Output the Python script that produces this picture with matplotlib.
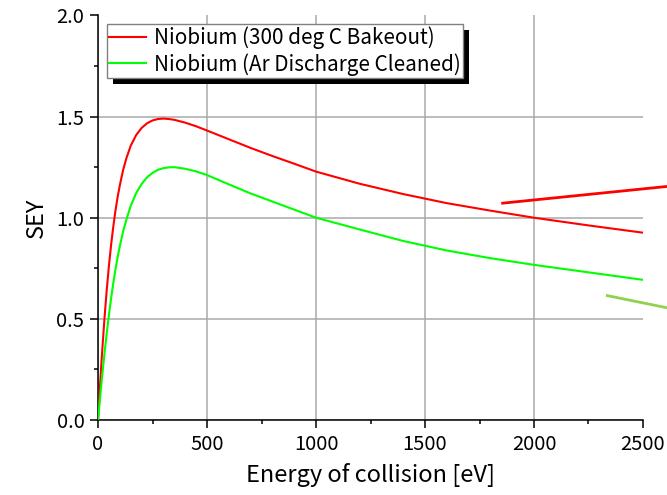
import matplotlib
matplotlib.use("Agg")
import matplotlib.pyplot as plt
from matplotlib.patches import Rectangle
from matplotlib.ticker import MultipleLocator

plt.rcParams['font.family'] = ['Noto Sans CJK JP', 'DejaVu Sans']

# secondary electron yield curves
energy = [0, 5, 10, 15, 20, 30, 40, 50, 60, 70, 80, 90, 100, 115, 130, 150,
          175, 200, 225, 250, 275, 300, 325, 350, 400, 450, 500, 600, 700,
          800, 900, 1000, 1200, 1400, 1600, 1800, 2000, 2250, 2500]
sey_bakeout = [0.0, 0.095, 0.186, 0.274, 0.357, 0.51, 0.645, 0.764, 0.867,
               0.957, 1.036, 1.103, 1.161, 1.236, 1.294, 1.356, 1.409, 1.444,
               1.467, 1.481, 1.488, 1.49, 1.488, 1.484, 1.47, 1.452, 1.431,
               1.388, 1.345, 1.305, 1.267, 1.228, 1.168, 1.117, 1.072, 1.035,
               1.0, 0.962, 0.926]
sey_ar_clean = [0.0, 0.059, 0.117, 0.174, 0.229, 0.333, 0.431, 0.52, 0.603,
                0.677, 0.745, 0.806, 0.86, 0.932, 0.99, 1.059, 1.122, 1.167,
                1.2, 1.222, 1.237, 1.245, 1.249, 1.25, 1.242, 1.229, 1.211,
                1.165, 1.12, 1.08, 1.04, 1.0, 0.942, 0.885, 0.838, 0.8,
                0.767, 0.73, 0.693]

# stray segments running off the right side
stray_red_x = [1856, 2650]
stray_red_y = [1.072, 1.159]
stray_olive_x = [2336, 2650]
stray_olive_y = [0.615, 0.546]

labels = ['Niobium (300 deg C Bakeout)', 'Niobium (Ar Discharge Cleaned)']
xticks = [0, 500, 1000, 1500, 2000, 2500]
yticks = [0.0, 0.5, 1.0, 1.5, 2.0]

fig = plt.figure(figsize=(6.67, 4.95), dpi=100)
ax = fig.add_axes([0.147, 0.1515, 0.817, 0.8173])

ax.plot(energy, sey_bakeout, color='#ff0000', lw=1.5, label=labels[0], zorder=3)
ax.plot(energy, sey_ar_clean, color='#00ff00', lw=1.5, label=labels[1], zorder=3)
ax.plot(stray_red_x, stray_red_y, color='#ff0000', lw=2.0, clip_on=False, zorder=4)
ax.plot(stray_olive_x, stray_olive_y, color='#92d050', lw=2.0, clip_on=False, zorder=4)

ax.set_xlim(0, 2500)
ax.set_ylim(0, 2.0)
ax.set_xticks(xticks)
ax.set_yticks(yticks)
ax.set_yticklabels([f'{v:.1f}' for v in yticks])
ax.xaxis.set_minor_locator(MultipleLocator(250))
ax.yaxis.set_minor_locator(MultipleLocator(0.25))
ax.tick_params(which='major', direction='out', length=5.8, width=1.1,
               labelsize=14.5, pad=4)
ax.tick_params(which='minor', direction='out', length=2.9, width=1.1)

for side in ['top', 'right']:
    ax.spines[side].set_visible(False)
for side in ['left', 'bottom']:
    ax.spines[side].set_linewidth(1.1)

ax.grid(True, which='major', color='#aaaaaa', lw=1.1, zorder=0)
ax.set_axisbelow(True)
ax.xaxis.get_gridlines()[-1].set_visible(False)
ax.yaxis.get_gridlines()[-1].set_visible(False)

ax.set_xlabel('Energy of collision [eV]', fontsize=17, labelpad=6)
ax.set_ylabel('SEY', fontsize=17, labelpad=6)

leg = ax.legend(loc='upper left', fontsize=14.9, frameon=True, fancybox=False,
                borderaxespad=0.42, borderpad=0.12, handlelength=1.8,
                handletextpad=0.37, labelspacing=0.18)
leg.get_frame().set_edgecolor('#808080')
leg.get_frame().set_linewidth(1.0)
leg.get_frame().set_alpha(1.0)
leg.set_zorder(10)

# black drop shadow under the legend box
fig.canvas.draw()
bb = leg.get_window_extent()
shadow = Rectangle((bb.x0 + 6, bb.y0 - 6), bb.width, bb.height,
                   transform=None, facecolor='black', edgecolor='none',
                   clip_on=False, zorder=9)
ax.add_patch(shadow)

fig.savefig('out.png', dpi=100)
